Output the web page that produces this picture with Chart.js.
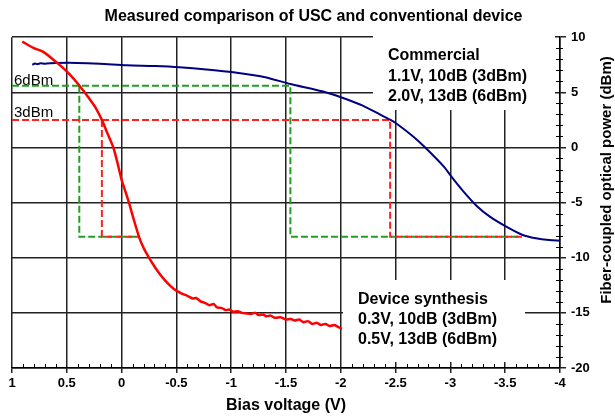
<!DOCTYPE html>
<html>
<head>
<meta charset="utf-8">
<script src="https://cdn.jsdelivr.net/npm/chart.js@4.4.0/dist/chart.umd.min.js"></script>
<style>
  html, body { margin: 0; padding: 0; background: #fff; }
</style>
</head>
<body>
<canvas id="chart" width="615" height="417"></canvas>
<script>
// commercial device (blue)
const commercialV = [0.815, 0.79, 0.77, 0.74, 0.70, 0.60, 0.41, 0.2, -0.047, -0.3, -0.53, -0.8, -1.02, -1.3, -1.54,
  -1.83, -2.02, -2.2, -2.36, -2.45, -2.51, -2.66, -2.77, -2.94, -3.02, -3.12, -3.24, -3.36, -3.51, -3.66, -3.78, -3.9, -4.0];
const commercialP = [7.5, 7.62, 7.55, 7.63, 7.6, 7.66, 7.67, 7.6, 7.45, 7.38, 7.27, 7.05, 6.82, 6.4, 5.75,
  5.09, 4.49, 3.8, 2.97, 2.52, 2.15, 1.0, 0.0, -1.73, -2.78, -4.0, -5.3, -6.27, -7.18, -7.94, -8.24, -8.4, -8.45];

// device synthesis (red)
const synthV = [0.906, 0.80, 0.714, 0.58, 0.48, 0.38, 0.30, 0.243, 0.18, 0.13, 0.076, 0.04, 0.0, -0.035, -0.067,
  -0.11, -0.159, -0.2, -0.244, -0.30, -0.35, -0.40, -0.44, -0.48, -0.52, -0.56, -0.60, -0.65, -0.68, -0.72, -0.76, -0.80, -0.84,
  -0.87, -0.91, -0.95, -0.98, -1.02, -1.06, -1.10, -1.14, -1.18, -1.22, -1.25, -1.29, -1.32, -1.36, -1.40, -1.45,
  -1.50, -1.54, -1.58, -1.62, -1.66, -1.70, -1.74, -1.78, -1.82, -1.86, -1.90, -1.94, -1.97, -2.01];
const synthP = [9.6, 9.0, 8.67, 7.6, 6.7, 5.55, 4.5, 3.7, 2.5, 1.3, 0.0, -1.3, -2.94, -4.0, -5.0,
  -6.5, -8.1, -9.1, -9.9, -10.8, -11.5, -12.1, -12.5, -12.85, -13.1, -13.3, -13.45, -13.7, -13.65, -13.95, -14.1, -14.3, -14.2,
  -14.5, -14.55, -14.75, -14.7, -14.9, -14.85, -15.0, -15.05, -15.1, -15.0, -15.2, -15.15, -15.3, -15.25, -15.45, -15.4,
  -15.6, -15.55, -15.7, -15.6, -15.85, -15.75, -16.0, -15.9, -16.1, -16.0, -16.2, -16.1, -16.25, -16.45];

// 3 dBm (red dashed) and 6 dBm (green dashed) guide lines
const red3CommV = [1, -2.45, -2.45, -3.65];
const red3CommP = [2.5, 2.5, -8.1, -8.1];
const red3SynthV = [0.18, 0.18, -0.16];
const red3SynthP = [2.5, -8.1, -8.1];
const green6CommV = [1, -1.54, -1.54, -3.65];
const green6CommP = [5.6, 5.6, -8.1, -8.1];
const green6SynthV = [0.386, 0.386, -0.16];
const green6SynthP = [5.6, -8.1, -8.1];

const xs = (v, p) => v.map((x, i) => ({ x: x, y: p[i] }));

const boldFont = "bold 16px 'Liberation Sans', Arial, sans-serif";

const decor = {
  id: "decor",
  beforeDatasetsDraw(chart) {
    const ctx = chart.ctx;
    const x = chart.scales.x, y = chart.scales.y;
    ctx.save();
    // white backgrounds behind the text blocks
    ctx.fillStyle = "#fff";
    ctx.fillRect(373, 28, 182, 82);
    ctx.fillRect(343, 280, 182, 82);
    // minor ticks
    ctx.strokeStyle = "#000";
    ctx.lineWidth = 1;
    ctx.beginPath();
    for (let i = -40; i <= 10; i++) {
      if (i % 5 === 0) continue;
      const px = Math.round(x.getPixelForValue(i / 10)) + 0.5;
      ctx.moveTo(px, y.bottom);
      ctx.lineTo(px, y.bottom - 4);
    }
    for (let j = -20; j <= 10; j++) {
      if (j % 5 === 0) continue;
      const py = Math.round(y.getPixelForValue(j)) + 0.5;
      ctx.moveTo(x.right - 4, py);
      ctx.lineTo(x.right + 3, py);
    }
    ctx.stroke();
    // text
    ctx.fillStyle = "#000";
    ctx.textBaseline = "alphabetic";
    ctx.textAlign = "left";
    ctx.font = "15px 'Liberation Sans', Arial, sans-serif";
    ctx.fillText("6dBm", 14, 85);
    ctx.fillText("3dBm", 14, 117);
    ctx.font = boldFont;
    ctx.fillText("Commercial", 388, 60);
    ctx.fillText("1.1V, 10dB (3dBm)", 388, 81);
    ctx.fillText("2.0V, 13dB (6dBm)", 388, 101);
    ctx.fillText("Device synthesis", 358, 304);
    ctx.fillText("0.3V, 10dB (3dBm)", 358, 324);
    ctx.fillText("0.5V, 13dB (6dBm)", 358, 344);
    ctx.restore();
  },
  afterDraw(chart) {
    const ctx = chart.ctx;
    ctx.save();
    ctx.translate(607, 180);
    ctx.rotate(-Math.PI / 2);
    ctx.font = "bold 15px 'Liberation Sans', Arial, sans-serif";
    ctx.fillStyle = "#000";
    ctx.textAlign = "center";
    ctx.textBaseline = "middle";
    ctx.fillText("Fiber-coupled optical power (dBm)", 0, 0);
    ctx.restore();
  }
};

const dashed = (data, color, order) => ({
  data: data,
  showLine: true,
  borderColor: color,
  borderWidth: 2,
  borderDash: [7, 3],
  pointRadius: 0,
  tension: 0,
  order: order,
});

new Chart(document.getElementById("chart"), {
  type: "scatter",
  data: {
    datasets: [
      {
        data: xs(synthV, synthP),
        showLine: true,
        borderColor: "#ff0000",
        borderWidth: 2.5,
        pointRadius: 0,
        tension: 0.25,
        order: 1,
      },
      {
        data: xs(commercialV, commercialP),
        showLine: true,
        borderColor: "#000080",
        borderWidth: 2,
        pointRadius: 0,
        tension: 0.25,
        order: 1,
      },
      dashed(xs(red3CommV, red3CommP), "#ff2020", 2),
      dashed(xs(red3SynthV, red3SynthP), "#ff2020", 2),
      dashed(xs(green6CommV, green6CommP), "#20a020", 3),
      dashed(xs(green6SynthV, green6SynthP), "#20a020", 3),
    ],
  },
  options: {
    responsive: false,
    animation: false,
    layout: { padding: { left: 12, top: 0, right: 0, bottom: 0 } },
    plugins: {
      legend: { display: false },
      tooltip: { enabled: false },
      title: {
        display: true,
        text: "Measured comparison of USC and conventional device",
        color: "#000",
        font: { family: "'Liberation Sans', Arial, sans-serif", size: 16, weight: "bold" },
        padding: { top: 7, bottom: 11 },
      },
    },
    scales: {
      x: {
        type: "linear",
        reverse: true,
        min: -4,
        max: 1,
        afterFit(scale) { scale.height = 49; },
        ticks: {
          stepSize: 0.5,
          color: "#000",
          padding: 3,
          maxRotation: 0,
          autoSkip: false,
          callback: (v) => String(Math.round(v * 10) / 10),
          font: { family: "'Liberation Sans', Arial, sans-serif", size: 13, weight: "bold" },
        },
        grid: { color: "#222", lineWidth: 1.5, tickLength: 5 },
        border: { color: "#000", width: 1.5 },
        title: {
          display: true,
          text: "Bias voltage (V)",
          color: "#000",
          font: { family: "'Liberation Sans', Arial, sans-serif", size: 16, weight: "bold" },
          padding: { top: 0, bottom: 2 },
        },
      },
      y: {
        position: "right",
        min: -20,
        max: 10,
        afterFit(scale) { scale.width = 55; },
        ticks: {
          stepSize: 5,
          color: "#000",
          padding: 5,
          callback: (v) => String(v),
          font: { family: "'Liberation Sans', Arial, sans-serif", size: 13, weight: "bold" },
        },
        grid: { color: "#222", lineWidth: 1.5, tickLength: 6 },
        border: { color: "#000", width: 1.5 },
      },
    },
  },
  plugins: [decor],
});
</script>
</body>
</html>
